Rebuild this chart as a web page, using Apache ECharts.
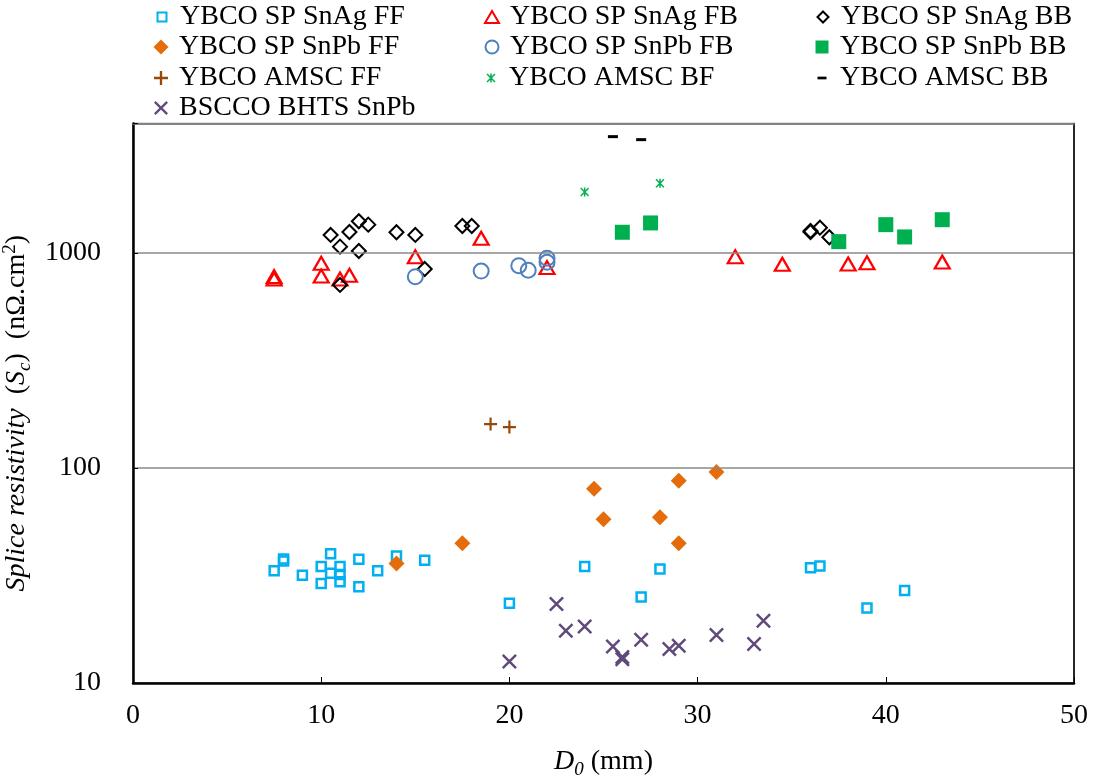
<!DOCTYPE html>
<html>
<head>
<meta charset="utf-8">
<script src="https://cdn.jsdelivr.net/npm/echarts@6/dist/echarts.min.js"></script>
<style>
html,body{margin:0;padding:0;background:#fff;}
#chart{width:1094px;height:780px;}
</style>
</head>
<body>
<div id="chart"></div>
<script>
// ---- data (x: D0 in mm, y: splice resistivity in nΩ.cm²) ----
const seriesNames = [
  'YBCO SP SnAg FF', 'YBCO SP SnAg FB', 'YBCO SP SnAg BB',
  'YBCO SP SnPb FF', 'YBCO SP SnPb FB', 'YBCO SP SnPb BB',
  'YBCO AMSC FF', 'YBCO AMSC BF', 'YBCO AMSC BB',
  'BSCCO BHTS SnPb'
];
const snAgFF = [[7.5,33.3],[8,37.7],[8,36.9],[9,31.7],[10,34.8],[10,29.0],[10.5,39.9],[10.5,32.4],[11,34.8],[11,32.0],[11,29.6],[12,37.6],[12,28.0],[13,33.3],[14,39.0],[15.5,37.2],[20,23.5],[24,34.8],[27,25.1],[28,33.9],[36,34.4],[36.5,35.0],[39,22.3],[41,26.9]];
const snAgFB = [[7.5,776],[7.5,757],[10,896],[10,782],[11,757],[11.5,788],[15,961],[18.5,1170],[22,855],[32,961],[34.5,886],[38,889],[39,901],[43,908]];
const snAgBB = [[10.5,1213],[11,1070],[11,710],[11.5,1252],[12,1404],[12.5,1354],[12,1021],[14,1248],[15,1213],[15.5,842],[17.5,1335],[18,1335],[36,1266],[36,1250],[36.5,1311],[37,1183]];
const snPbFF = [[14,36.0],[17.5,44.7],[24.5,80.1],[25,57.7],[28,59.0],[29,87.3],[29,44.7],[31,95.8]];
const snPbFB = [[15,776],[18.5,824],[20.5,873],[21,831],[22,945],[22,905]];
const snPbBB = [[26,1248],[27.5,1379],[37.5,1129],[40,1354],[41,1187],[43,1428]];
const amscFF = [[19,160],[20,155]];
const amscBF = [[24,1922],[28,2110]];
const amscBB = [[25.5,3475],[27,3365]];
const bscco  = [[20,12.6],[22.5,23.3],[23,17.5],[24,18.3],[25.5,14.8],[26,13.2],[26,12.9],[27,15.9],[28.5,14.4],[29,14.9],[31,16.7],[33,15.2],[33.5,19.5]];
const yTickLabels = [10, 100, 1000];
const xTickLabels = [0, 10, 20, 30, 40, 50];

const FONT = '"Liberation Serif", "Times New Roman", serif';
const CLEAR = 'rgba(255,255,255,0)';
const PLUS = 'path://M5,0 h2 v5 h5 v2 h-5 v5 h-2 v-5 h-5 v-2 h5 z';
const CROSS = 'path://M0,1.4 L1.4,0 L12,10.6 L10.6,12 Z M10.6,0 L12,1.4 L1.4,12 L0,10.6 Z';
const STAR = 'path://M0,1.4 L1.4,0 L12,10.6 L10.6,12 Z M10.6,0 L12,1.4 L1.4,12 L0,10.6 Z M5,0 L7,0 L7,12 L5,12 Z';
const DASH = 'path://M0,0 L10,0 L10,3 L0,3 Z';

const styles = [
  {data: snAgFF, symbol: 'rect', size: 9, item: {color: CLEAR, borderColor: '#00B0F0', borderWidth: 2.5}, lg: [9,9]},
  {data: snAgFB, symbol: 'triangle', size: [15,13], item: {color: CLEAR, borderColor: '#FF0000', borderWidth: 2.2}, lg: [14,12]},
  {data: snAgBB, symbol: 'diamond', size: 14, item: {color: CLEAR, borderColor: '#000000', borderWidth: 2}, lg: [11,11]},
  {data: snPbFF, symbol: 'diamond', size: 16, item: {color: '#E46C0A'}, lg: [15,15]},
  {data: snPbFB, symbol: 'circle', size: 15, item: {color: CLEAR, borderColor: '#4F81BD', borderWidth: 2}, lg: [13,13]},
  {data: snPbBB, symbol: 'rect', size: 15, item: {color: '#00B050'}, lg: [13,13]},
  {data: amscFF, symbol: PLUS, size: 13, item: {color: '#974706'}, lg: [14,14]},
  {data: amscBF, symbol: STAR, size: 9, item: {color: '#00B050'}, lg: [9,9]},
  {data: amscBB, symbol: DASH, size: [10,3], item: {color: '#000000'}, lg: [9,3]},
  {data: bscco, symbol: CROSS, size: 15, item: {color: '#604A7B'}, lg: [14,14]}
];

const series = styles.map((s, i) => ({
  name: seriesNames[i],
  type: 'scatter',
  data: s.data,
  symbol: s.symbol,
  symbolSize: s.size,
  itemStyle: Object.assign({opacity: 1}, s.item),
  emphasis: {disabled: true},
  z: 3
}));

// legend layout: 3 columns x 4 rows
const colMarkerX = [161, 491, 822];
const rowCenterY = [17, 47, 78, 108];
const TEXT_OFFSET = 18; // distance from marker centre to text start
const legends = seriesNames.map((name, i) => {
  const col = i % 3, row = Math.floor(i / 3);
  const w = styles[i].lg[0], h = styles[i].lg[1];
  return {
    data: [name],
    left: colMarkerX[col] - w / 2,
    top: rowCenterY[row] - 14,
    padding: 0,
    itemWidth: w,
    itemHeight: h,
    selectedMode: false,
    z: 1,
    textStyle: {fontFamily: FONT, fontSize: 28, color: '#000', lineHeight: 28,
                padding: [0, 0, 0, TEXT_OFFSET - w / 2 - 5]}
  };
});

const richBase = {
  i: {fontFamily: FONT, fontSize: 28, fontStyle: 'italic', color: '#000', lineHeight: 34},
  n: {fontFamily: FONT, fontSize: 28, color: '#000', lineHeight: 34},
  sub: {fontFamily: FONT, fontSize: 19, fontStyle: 'italic', color: '#000', verticalAlign: 'bottom', lineHeight: 22},
  sup: {fontFamily: FONT, fontSize: 19, color: '#000', verticalAlign: 'top', lineHeight: 22}
};

const chart = echarts.init(document.getElementById('chart'), null, {renderer: 'canvas'});
chart.setOption({
  backgroundColor: '#fff',
  animation: false,
  legend: legends,
  grid: {left: 133, right: 20, top: 123.5, bottom: 97, containLabel: false, outerBoundsMode: 'none',
         show: true, borderColor: '#7f7f7f', borderWidth: 1.5, backgroundColor: 'transparent', z: 6},
  xAxis: [{
    type: 'value', min: 0, max: 50, interval: 10,
    name: '{i|D}{sub|0}{n| (mm)}',
    nameLocation: 'middle', nameGap: 62,
    nameTextStyle: {fontFamily: FONT, fontSize: 28, color: '#000', rich: richBase},
    axisLine: {show: true, onZero: false, lineStyle: {color: '#000', width: 2.5}},
    axisTick: {show: true, inside: true, length: 6, lineStyle: {color: '#000', width: 1}},
    axisLabel: {
      fontFamily: FONT, fontSize: 28, color: '#000', margin: 19,
      formatter: v => (xTickLabels.indexOf(v) >= 0 ? String(v) : '')
    },
    splitLine: {show: false},
    z: 8
  }, {
    type: 'value', min: 0, max: 50, interval: 10, position: 'top', z: 8,
    axisLine: {show: true, onZero: false, lineStyle: {color: '#7f7f7f', width: 1.5}},
    axisTick: {show: false}, axisLabel: {show: false}, splitLine: {show: false}
  }],
  yAxis: [{
    type: 'log', logBase: 10, min: 10, max: 4000,
    name: '{i|Splice resistivity}{n|  (}{i|S}{sub|c}{n|)  (nΩ.cm}{sup|2}{n|)}',
    nameLocation: 'middle', nameGap: 79, nameRotate: 90,
    nameTextStyle: {fontFamily: FONT, fontSize: 28, color: '#000', rich: richBase, padding: [0, 20, 0, 0]},
    axisLine: {show: true, onZero: false, lineStyle: {color: '#000', width: 2.5}},
    axisTick: {show: true, inside: true, length: 5, lineStyle: {color: '#000', width: 1}},
    axisLabel: {
      fontFamily: FONT, fontSize: 28, color: '#000', margin: 32,
      formatter: v => (yTickLabels.some(t => Math.abs(t - v) < 1e-6 * t) ? String(Math.round(v)) : '')
    },
    splitLine: {show: true, lineStyle: {color: '#8a8a8a', width: 1.5}},
    z: 8
  }, {
    type: 'log', logBase: 10, min: 10, max: 4000, position: 'right', z: 8,
    axisLine: {show: true, onZero: false, lineStyle: {color: '#000', width: 1.5}},
    axisTick: {show: false}, axisLabel: {show: false}, splitLine: {show: false}
  }],
  series: series
});
</script>
</body>
</html>
